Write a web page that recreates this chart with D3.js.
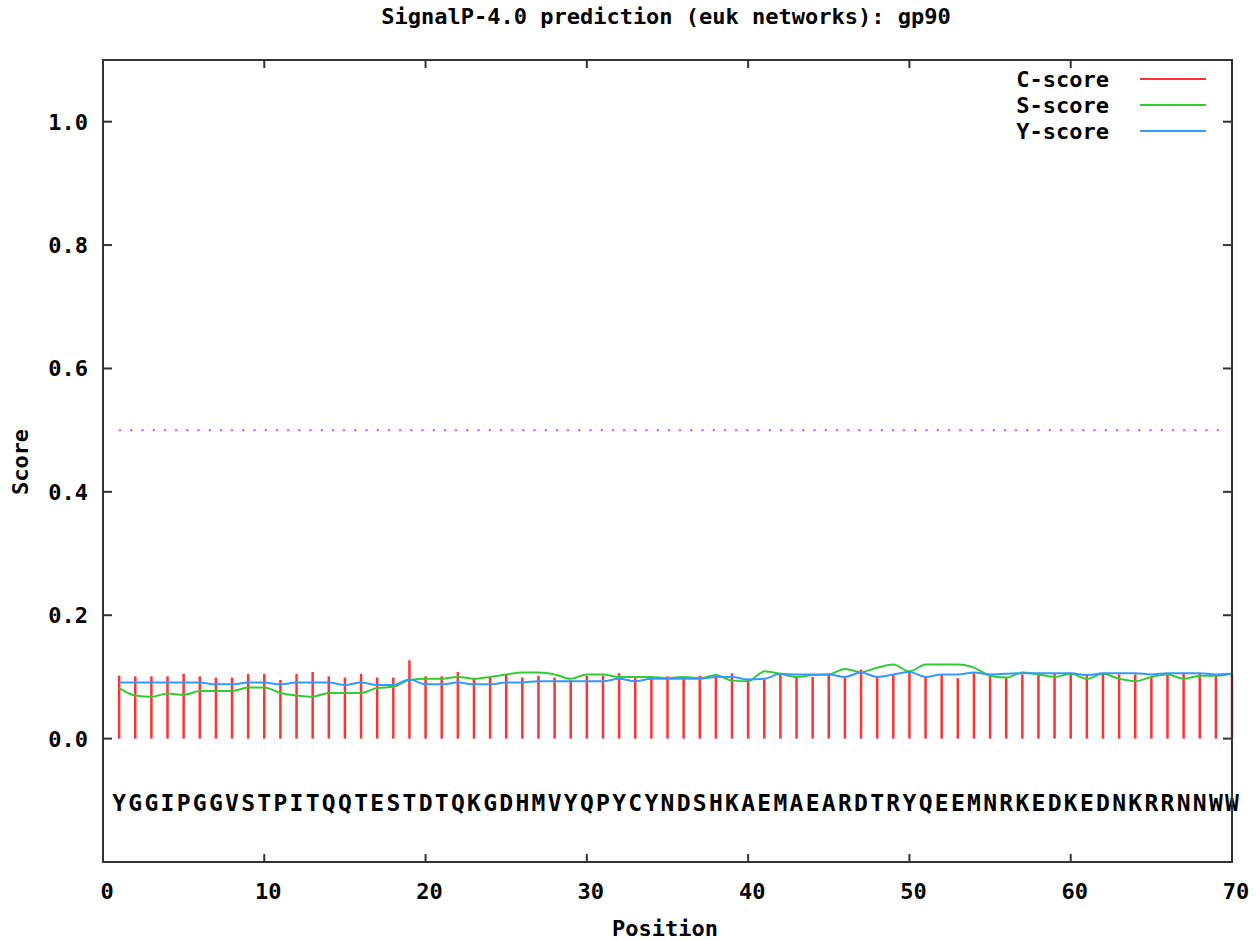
<!DOCTYPE html>
<html>
<head>
<meta charset="utf-8">
<script src="https://cdn.jsdelivr.net/npm/d3@7"></script>
<style>
  body { margin: 0; background: #fff; }
  text { font-family: "DejaVu Sans Mono", monospace; font-weight: bold; fill: #000; }
</style>
</head>
<body>
<div id="viz"></div>
<script>
// Data for gp90
const SEQUENCE = "YGGIPGGVSTPITQQTESTDTQKGDHMVYQPYCYNDSHKAEMAEARDTRYQEEMNRKEDKEDNKRRNNWW";
const C_SCORE = [
  0.102,0.101,0.101,0.101,0.105,0.101,0.099,0.099,0.105,0.105,
  0.095,0.105,0.108,0.101,0.099,0.105,0.099,0.099,0.127,0.101,
  0.101,0.108,0.097,0.100,0.104,0.099,0.102,0.099,0.095,0.102,
  0.102,0.106,0.099,0.099,0.101,0.099,0.102,0.105,0.106,0.097,
  0.096,0.105,0.100,0.100,0.104,0.100,0.112,0.100,0.104,0.108,
  0.100,0.104,0.098,0.106,0.102,0.100,0.104,0.106,0.106,0.106,
  0.102,0.106,0.104,0.104,0.100,0.104,0.106,0.106,0.104,0.104
];
const S_SCORE = [
  0.082,0.070,0.068,0.073,0.071,0.077,0.077,0.077,0.083,0.083,
  0.074,0.070,0.068,0.074,0.074,0.074,0.082,0.084,0.095,0.097,
  0.097,0.100,0.097,0.100,0.104,0.107,0.107,0.104,0.097,0.104,
  0.104,0.100,0.100,0.100,0.098,0.100,0.098,0.103,0.094,0.093,
  0.109,0.105,0.100,0.103,0.104,0.113,0.108,0.115,0.120,0.109,
  0.120,0.120,0.120,0.115,0.102,0.099,0.107,0.104,0.100,0.105,
  0.097,0.105,0.097,0.093,0.100,0.104,0.097,0.102,0.102,0.105
];
const Y_SCORE = [
  0.091,0.091,0.091,0.091,0.091,0.091,0.088,0.088,0.091,0.091,
  0.088,0.091,0.091,0.091,0.087,0.091,0.087,0.087,0.096,0.088,
  0.088,0.091,0.088,0.088,0.091,0.091,0.093,0.093,0.093,0.093,
  0.093,0.097,0.093,0.097,0.097,0.097,0.097,0.100,0.100,0.096,
  0.097,0.105,0.104,0.104,0.104,0.100,0.107,0.100,0.104,0.108,
  0.100,0.104,0.104,0.107,0.104,0.105,0.106,0.106,0.106,0.106,
  0.103,0.106,0.106,0.106,0.104,0.106,0.106,0.106,0.104,0.105
];
const THRESHOLD = 0.5;
const X_TICKS = [0,10,20,30,40,50,60,70];
const Y_TICKS = [0.0,0.2,0.4,0.6,0.8,1.0];
const LEGEND = ["C-score","S-score","Y-score"];
const COLORS = ["#ff3333","#33cc33","#3399ff"];

const width = 1256, height = 940;
const plotL = 103, plotR = 1232, plotT = 60, plotB = 862;

const svg = d3.select("#viz").append("svg").attr("width", width).attr("height", height);
svg.append("rect").attr("width", width).attr("height", height).attr("fill", "#fff");

const x = d3.scaleLinear().domain([0, 70]).range([plotL, plotR]);
const y = d3.scaleLinear().domain([-0.2, 1.1]).range([plotB, plotT]);

const positions = d3.range(1, SEQUENCE.length + 1);

// title
svg.append("text").attr("x", 666).attr("y", 24).attr("text-anchor", "middle")
  .style("font-size", "22px").text("SignalP-4.0 prediction (euk networks): gp90");

// threshold
svg.append("line")
  .attr("x1", x(1)).attr("x2", x(69.5)).attr("y1", y(THRESHOLD)).attr("y2", y(THRESHOLD))
  .attr("stroke", "#cc44ff").attr("stroke-width", 2).attr("stroke-dasharray", "2,9.2");

// C-score impulses
svg.append("g").selectAll("line").data(positions).enter().append("line")
  .attr("x1", d => x(d)).attr("x2", d => x(d))
  .attr("y1", y(0)).attr("y2", d => y(C_SCORE[d - 1]))
  .attr("stroke", COLORS[0]).attr("stroke-width", 2.5);

// S and Y lines
const line = d3.line().x((d, i) => x(i + 1)).y(d => y(d)).curve(d3.curveMonotoneX);
[S_SCORE, Y_SCORE].forEach((s, k) => {
  svg.append("path").attr("d", line(s)).attr("fill", "none")
    .attr("stroke", COLORS[k + 1]).attr("stroke-width", 2);
});

// sequence letters
svg.append("g").selectAll("text").data(positions).enter().append("text")
  .attr("x", d => x(d)).attr("y", 811).attr("text-anchor", "middle")
  .style("font-size", "23px").text(d => SEQUENCE[d - 1]);

// frame and ticks
const axisG = svg.append("g").attr("stroke", "#333").attr("stroke-width", 2);
axisG.append("rect").attr("x", plotL).attr("y", plotT).attr("width", plotR - plotL).attr("height", plotB - plotT)
  .attr("fill", "none");
X_TICKS.slice(1, -1).forEach(t => {
  axisG.append("line").attr("x1", x(t)).attr("x2", x(t)).attr("y1", plotB).attr("y2", plotB - 8);
  axisG.append("line").attr("x1", x(t)).attr("x2", x(t)).attr("y1", plotT).attr("y2", plotT + 8);
});
Y_TICKS.forEach(t => {
  axisG.append("line").attr("x1", plotL).attr("x2", plotL + 9).attr("y1", y(t)).attr("y2", y(t));
  axisG.append("line").attr("x1", plotR).attr("x2", plotR - 9).attr("y1", y(t)).attr("y2", y(t));
});

svg.append("g").selectAll("text").data(X_TICKS).enter().append("text")
  .attr("x", d => x(d) + 4).attr("y", 899).attr("text-anchor", "middle")
  .style("font-size", "22px").text(d => d);
svg.append("g").selectAll("text").data(Y_TICKS).enter().append("text")
  .attr("x", 88).attr("y", d => y(d) + 8).attr("text-anchor", "end")
  .style("font-size", "22px").text(d => d.toFixed(1));

// axis labels
svg.append("text").attr("x", 665).attr("y", 936).attr("text-anchor", "middle")
  .style("font-size", "22px").text("Position");
svg.append("text").attr("transform", "translate(28,462) rotate(-90)").attr("text-anchor", "middle")
  .style("font-size", "22px").text("Score");

// legend
LEGEND.forEach((name, i) => {
  const ly = 79 + i * 26;
  svg.append("text").attr("x", 1109).attr("y", ly + 8).attr("text-anchor", "end")
    .style("font-size", "22px").text(name);
  svg.append("line").attr("x1", 1140).attr("x2", 1206).attr("y1", ly).attr("y2", ly)
    .attr("stroke", COLORS[i]).attr("stroke-width", 2);
});
</script>
</body>
</html>
